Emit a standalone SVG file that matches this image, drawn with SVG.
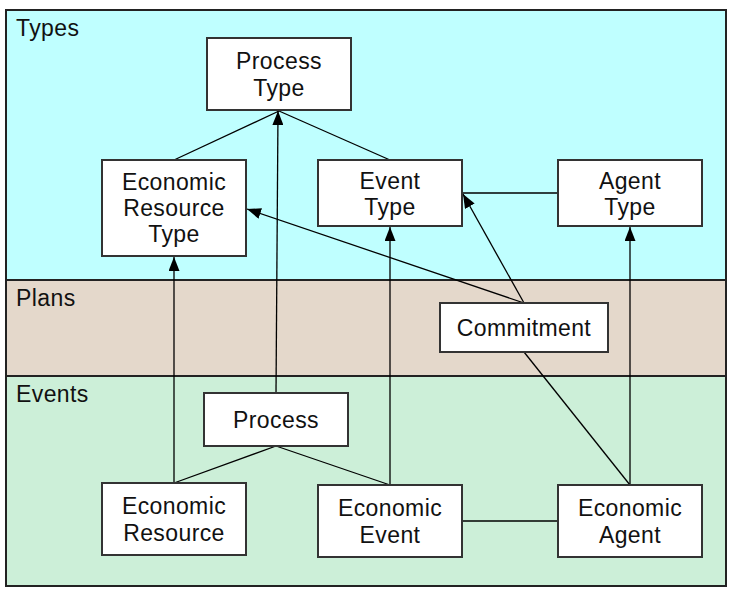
<svg xmlns="http://www.w3.org/2000/svg" width="736" height="592" viewBox="0 0 736 592">
<style>
.band{stroke:#222;stroke-width:2}
.node rect{fill:#fff;stroke:#333;stroke-width:2}
text{font-family:"Liberation Sans",Arial,sans-serif;font-size:23px;fill:#111;letter-spacing:0.4px}
.node text{text-anchor:middle}
.conn line{stroke:#000;stroke-width:1.3;fill:none}
.arr{marker-end:url(#ah)}
</style>
<defs>
<marker id="ah" viewBox="0 0 14 11" refX="14" refY="5.5" markerWidth="14" markerHeight="11" markerUnits="userSpaceOnUse" orient="auto">
<path d="M0,0 L14,5.5 L0,11 z" fill="#000"/>
</marker>
</defs>
<rect width="736" height="592" fill="#fff"/>
<g id="lanes">
<rect class="band" x="6" y="10" width="720" height="270" fill="#bfffff"/>
<rect class="band" x="6" y="280" width="720" height="96" fill="#e4d8cb"/>
<rect class="band" x="6" y="376" width="720" height="210" fill="#ccefd8"/>
<text x="16" y="36">Types</text>
<text x="16" y="306">Plans</text>
<text x="16" y="402">Events</text>
</g>
<g id="connectors" class="conn">
<line x1="279" y1="111" x2="174" y2="160"/>
<line x1="279" y1="111" x2="390" y2="160"/>
<line x1="462" y1="193" x2="558" y2="193"/>
<line x1="462" y1="521" x2="558" y2="521"/>
<line x1="276" y1="446" x2="174" y2="483"/>
<line x1="276" y1="446" x2="390" y2="485"/>
<line x1="524" y1="352" x2="630" y2="485"/>
<line class="arr" x1="276" y1="393" x2="278" y2="111"/>
<line class="arr" x1="174" y1="483" x2="174" y2="257"/>
<line class="arr" x1="390" y1="485" x2="390" y2="227"/>
<line class="arr" x1="630" y1="485" x2="630" y2="227"/>
<line class="arr" x1="524" y1="303" x2="247" y2="209"/>
<line class="arr" x1="524" y1="303" x2="463" y2="194"/>
</g>
<g id="process-type" class="node"><rect x="207" y="38" width="144" height="72"/><text x="279" y="69">Process</text><text x="279" y="96">Type</text></g>
<g id="economic-resource-type" class="node"><rect x="102" y="160" width="144" height="96"/><text x="174" y="190">Economic</text><text x="174" y="216">Resource</text><text x="174" y="242">Type</text></g>
<g id="event-type" class="node"><rect x="318" y="160" width="144" height="66"/><text x="390" y="189">Event</text><text x="390" y="215">Type</text></g>
<g id="agent-type" class="node"><rect x="558" y="160" width="144" height="66"/><text x="630" y="189">Agent</text><text x="630" y="215">Type</text></g>
<g id="commitment" class="node"><rect x="440" y="303" width="168" height="49"/><text x="524" y="336">Commitment</text></g>
<g id="process" class="node"><rect x="204" y="393" width="144" height="53"/><text x="276" y="428">Process</text></g>
<g id="economic-resource" class="node"><rect x="102" y="483" width="144" height="72"/><text x="174" y="514">Economic</text><text x="174" y="541">Resource</text></g>
<g id="economic-event" class="node"><rect x="318" y="485" width="144" height="72"/><text x="390" y="516">Economic</text><text x="390" y="543">Event</text></g>
<g id="economic-agent" class="node"><rect x="558" y="485" width="144" height="72"/><text x="630" y="516">Economic</text><text x="630" y="543">Agent</text></g>
</svg>
